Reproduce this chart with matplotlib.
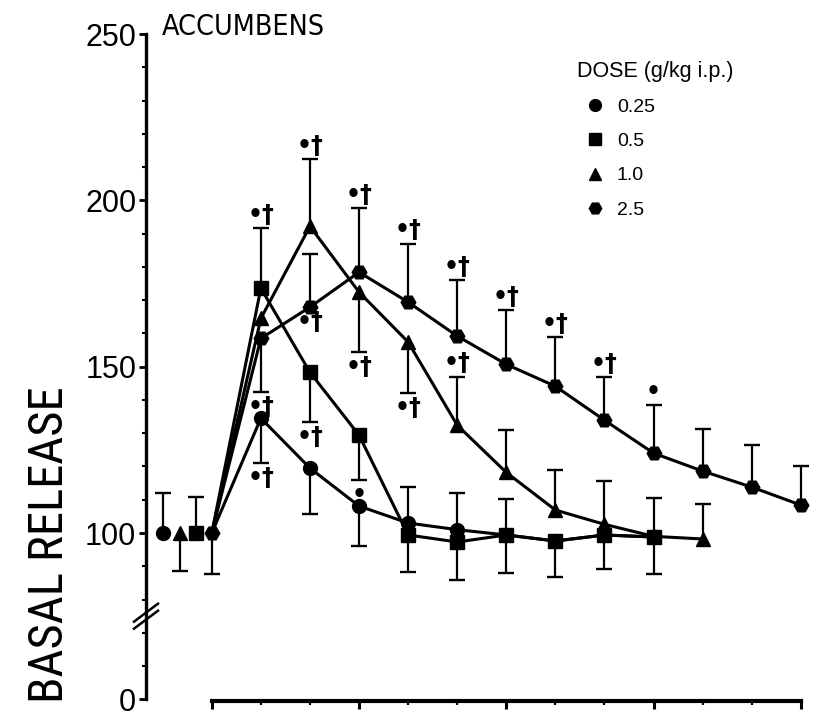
import numpy as np
import matplotlib
matplotlib.use("Agg")
import matplotlib.pyplot as plt
from matplotlib.lines import Line2D
from matplotlib.ticker import FixedLocator, FixedFormatter, NullFormatter

nan = np.nan

# ---------------- data ----------------
doses = ['0.25', '0.5', '1.0', '2.5']
samples = list(range(13))            # sample number, 0 = basal
basal_x = [-1.0, -0.33, -0.65, 0.0]  # where each dose's basal point is drawn

y_025 = [100, 134.5, 119.5, 108.1, 103.0, 101.0, 99.4, 97.6, 99.4, 98.8]
up_025 = [12.0, nan, nan, nan, 10.8, 11.0, 10.8, nan, nan, nan]
dn_025 = [nan, 13.5, 13.8, 12.1, nan, nan, nan, nan, nan, nan]
sig_025 = [(1, '•†', 'below')]

y_05 = [100, 173.6, 148.3, 129.4, 99.4, 97.3, 99.4, 97.6, 99.4, 98.8]
up_05 = [10.8, 18.0, nan, nan, nan, nan, nan, nan, nan, nan]
dn_05 = [nan, nan, 15.0, 13.4, 11.1, 11.3, 11.4, 10.8, 10.2, 11.1]
sig_05 = [(1, '•†', 'above'), (2, '•†', 'below'), (3, '•', 'below')]

y_10 = [100, 164.5, 192.2, 172.4, 157.4, 132.4, 118.2, 106.9, 102.6, 99.0, 98.2]
up_10 = [nan, nan, 20.1, nan, nan, 14.6, 12.8, 12.0, 13.0, 11.5, 10.5]
dn_10 = [11.4, nan, nan, 18.0, 15.4, nan, nan, nan, nan, nan, nan]
sig_10 = [(2, '•†', 'above'), (3, '•†', 'below'), (4, '•†', 'below'), (5, '•†', 'above')]

y_25 = [100, 158.5, 167.9, 178.4, 169.4, 159.2, 150.7, 144.1, 133.9, 124.0, 118.6, 113.8, 108.4]
up_25 = [nan, nan, 16.1, 19.2, 17.6, 16.8, 16.3, 14.7, 13.0, 14.5, 12.6, 12.6, 11.6]
dn_25 = [12.3, 16.2, nan, nan, nan, nan, nan, nan, nan, nan, nan, nan, nan]
sig_25 = [(1, '•†', 'below'), (2, '•†', 'below'), (3, '•†', 'above'), (4, '•†', 'above'),
          (5, '•†', 'above'), (6, '•†', 'above'), (7, '•†', 'above'), (8, '•†', 'above'),
          (9, '•', 'above')]

ytick_vals = [50, 100, 150, 200, 250]
ytick_labels = ['0', '100', '150', '200', '250']
yminor_vals = [60, 70, 80, 90] + list(range(110, 250, 10))
xmajor_vals = [0, 3, 6, 9, 12]

title_text = 'ACCUMBENS'
ylabel_text = 'BASAL RELEASE'
legend_title = 'DOSE (g/kg i.p.)'

# ---------------- style ----------------
REG = ['Liberation Sans', 'DejaVu Sans']
SIGF = ['DejaVu Sans']
plt.rcParams['font.family'] = REG

series = [
    (y_025, up_025, dn_025, sig_025, 'o', 10.0),
    (y_05, up_05, dn_05, sig_05, 's', 9.5),
    (y_10, up_10, dn_10, sig_10, '^', 10.0),
    (y_25, up_25, dn_25, sig_25, 'H', 10.5),
]

W, H = 824, 714
fig = plt.figure(figsize=(W / 100, H / 100), dpi=100)
ax = fig.add_axes([146 / W, 13 / H, (820 - 146) / W, (680 - 13) / H])
ax.set_xlim(-1.34, 12.39)
ax.set_ylim(49.5, 250)

CAP_MS, CAP_W, ELW = 12, 1.7, 1.6

for (yv, up, dn, sig, mk, ms), bx in zip(series, basal_x):
    n = len(yv)
    xs = samples[:n]
    yarr = np.array(yv, float)
    uarr = np.array(up, float)
    darr = np.array(dn, float)
    ax.plot(xs, yv, '-', color='black', lw=2.2, marker=mk, ms=ms,
            mfc='black', mec='black', markevery=list(range(1, n)), zorder=3)
    ex = [bx] + xs[1:]
    # error bars: vertical stems and caps
    ax.errorbar(ex, yv, yerr=[np.nan_to_num(darr), np.nan_to_num(uarr)], fmt='none',
                ecolor='black', elinewidth=ELW, capsize=0, zorder=2)
    ax.plot(ex, yarr + uarr, linestyle='none', marker='_', ms=CAP_MS, mew=CAP_W,
            color='black', zorder=2)
    ax.plot(ex, yarr - darr, linestyle='none', marker='_', ms=CAP_MS, mew=CAP_W,
            color='black', zorder=2)
    ax.plot([bx], [yv[0]], linestyle='none', marker=mk, ms=ms,
            mfc='black', mec='black', zorder=3)
    for i, txt, side in sig:
        if side == 'above':
            yy = yv[i] + (up[i] if not np.isnan(up[i]) else 0)
            ax.annotate(txt, xy=(xs[i], yy), xytext=(0, 1), textcoords='offset points',
                        ha='center', va='bottom', fontsize=17, fontweight='bold',
                        family=SIGF)
        else:
            yy = yv[i] - (dn[i] if not np.isnan(dn[i]) else 0)
            ax.annotate(txt, xy=(xs[i], yy), xytext=(0, -2), textcoords='offset points',
                        ha='center', va='top', fontsize=17, fontweight='bold',
                        family=SIGF)

# axes styling
for s in ('top', 'right'):
    ax.spines[s].set_visible(False)
ax.spines['left'].set_bounds(50, 250)
ax.spines['left'].set_linewidth(2.4)
ax.spines['bottom'].set_bounds(0, 12)
ax.spines['bottom'].set_linewidth(3.0)

ax.yaxis.set_major_locator(FixedLocator(ytick_vals))
ax.yaxis.set_major_formatter(FixedFormatter(ytick_labels))
ax.yaxis.set_minor_locator(FixedLocator(yminor_vals))
ax.xaxis.set_major_locator(FixedLocator(xmajor_vals))
ax.xaxis.set_minor_locator(FixedLocator(samples))
ax.xaxis.set_major_formatter(NullFormatter())
ax.tick_params(axis='y', which='major', direction='out', length=5, width=2,
               labelsize=22, pad=2)
ax.tick_params(axis='y', which='minor', direction='out', length=3, width=1.5)
ax.tick_params(axis='x', which='major', direction='out', length=6, width=2.2)
ax.tick_params(axis='x', which='minor', direction='out', length=3, width=1.6)

# axis break marks "//"
yb = (75 - 49.5) / (250 - 49.5)
dxa, dya = 12 / 674, 9 / 667
for off in (-3.5 / 667, 3.5 / 667):
    ax.plot([-dxa, dxa], [yb - dya + off, yb + dya + off], transform=ax.transAxes,
            color='black', lw=1.8, clip_on=False)

# texts
fig.text(162 / W, 1 - 35 / H, title_text, family=['DejaVu Sans'], fontstretch='condensed',
         fontsize=20.5, ha='left', va='baseline')
fig.text(50 / W, 1 - 545 / H, ylabel_text, family=['Roboto Condensed', 'Liberation Sans'],
         fontsize=35, rotation=90, ha='center', va='center')

handles = [Line2D([], [], linestyle='none', marker=mk, ms=ms * 0.85,
                  mfc='black', mec='black') for (_, _, _, _, mk, ms) in series]
leg = ax.legend(handles, doses, title=legend_title, loc='upper left',
                bbox_to_anchor=(577 / W, 1 - 61 / H), bbox_transform=fig.transFigure,
                frameon=False, fontsize=14, title_fontsize=15.5, alignment='left',
                borderpad=0, borderaxespad=0, handlelength=1.8, handletextpad=0.25,
                labelspacing=0.85)

fig.savefig('out.png', dpi=100)
